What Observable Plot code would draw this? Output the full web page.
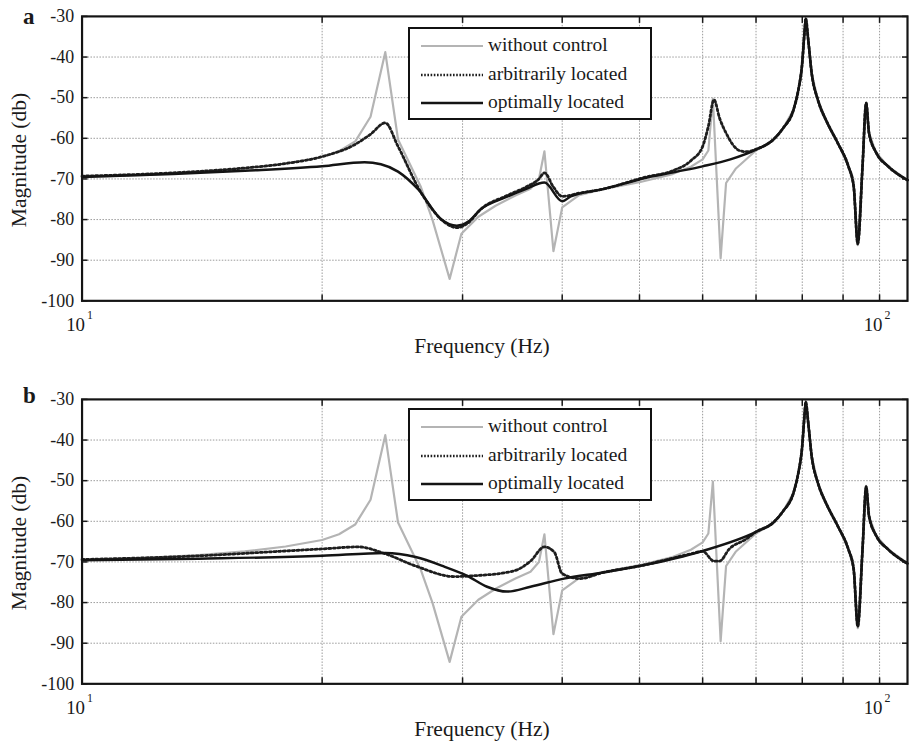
<!DOCTYPE html>
<html><head><meta charset="utf-8">
<script src="https://cdn.jsdelivr.net/npm/d3@7"></script>
<script src="https://cdn.jsdelivr.net/npm/@observablehq/plot@0.6"></script>
<style>
body{margin:0;background:#fff;overflow:hidden;font-family:"Liberation Serif","Tinos","Times New Roman",Times,"DejaVu Serif",serif;color:#1a1a1a}
#wrap{position:relative;width:910px;height:744px;overflow:hidden}
.panel{position:absolute;left:0}
.lbl{position:absolute;white-space:nowrap;line-height:1}
.legend{position:absolute;border:2px solid #111;background:#fff;box-sizing:border-box;width:244px;height:93px}
.sw{position:absolute;left:11px;width:62px;height:6px}
.lt{position:absolute;left:78px;font-size:19.5px;line-height:1;white-space:nowrap}
</style></head><body><div id="wrap"></div>
<script>
// ---------- data ----------
const panelLetters = ["a", "b"];
const seriesNames = ["without control", "arbitrarily located", "optimally located"];
const freqGridTicks = [20, 30, 40, 50, 60, 70, 80, 90, 100];
const decadeTicks = [10, 100];
const dbTicks = [-100, -90, -80, -70, -60, -50, -40, -30];

// without control (same in both panels)
const withoutFreq = [10, 12, 14, 16, 18, 20, 21, 22, 23, 24, 24.9, 26.6, 27.5, 28.9, 29.9, 31.4, 33, 35, 36.5, 37.4, 38, 39, 40, 42, 45, 50, 55, 58, 60, 61, 61.8, 62.5, 63.2, 64.2, 66, 70, 73.6, 75.7, 78, 79.1, 79.9, 80.5, 80.8, 81.4, 82.2, 83.7, 86, 88.6, 91.4, 92.8, 93.9, 95.2, 96.2, 97, 99, 102.5, 108.4];
const withoutDb   = [-69.5, -69, -68.3, -67.4, -66.2, -64.6, -63.2, -60.8, -54.7, -38.8, -60.3, -72, -80, -94.6, -83.5, -79.3, -76.6, -74, -72.4, -70, -63.2, -87.8, -77, -74, -72.5, -70.8, -68.8, -67, -65.2, -63, -50.2, -70, -89.5, -71, -67.5, -63, -60.3, -57.5, -53, -48.1, -42.5, -34.2, -30.4, -35.9, -44, -50.6, -56.2, -61.1, -66.9, -71.8, -86.3, -66.9, -51.3, -58.7, -63.5, -66.9, -70.3];

// panel a: arbitrarily located
const arbAFreq = [10, 13, 16, 18, 20, 22, 23, 24, 24.9, 26.6, 28.5, 29.5, 30.5, 31.6, 34, 36, 37.4, 38, 39, 40, 42, 45, 51, 55, 58, 60, 61, 62, 63, 64.2, 66.7, 68, 70, 73.6, 75.7, 78, 79.1, 79.9, 80.5, 80.8, 81.4, 82.2, 83.7, 86, 88.6, 91.4, 92.8, 93.9, 95.2, 96.2, 97, 99, 102.5, 108.4];
const arbADb   = [-69.3, -68.5, -67.3, -66.2, -64.5, -61.5, -59, -56.2, -62, -73.3, -80.7, -82, -80.8, -77.5, -74.2, -72, -70, -68.5, -72, -74.3, -73.5, -72.5, -69.5, -68, -65.5, -62, -57, -50.5, -55, -58.7, -63, -63.3, -62.7, -60.3, -57.5, -53, -48.1, -42.5, -34.2, -30.5, -35.9, -44, -50.6, -56.2, -61.1, -66.9, -71.8, -86, -66.9, -51.3, -58.7, -63.5, -66.9, -70.3];

// panel a: optimally located
const optAFreq = [10, 13, 16, 20, 22.6, 23.7, 24.9, 26.4, 28.2, 29.5, 30.5, 31.6, 34, 36, 38, 40, 41, 45, 51, 55.7, 60, 65, 70, 73.6, 75.7, 78, 79.1, 79.9, 80.5, 80.8, 81.4, 82.2, 83.7, 86, 88.6, 91.4, 92.8, 93.9, 95.2, 96.2, 97, 99, 102.5, 108.4];
const optADb   = [-69.5, -68.8, -68, -66.9, -65.9, -66.4, -68.2, -72.6, -79.9, -81.5, -80.5, -77.5, -74.5, -72.5, -70.9, -75.5, -74.3, -72.5, -69.7, -68.2, -66.9, -65.2, -62.8, -60.3, -57.5, -53, -48.1, -42.5, -34.2, -30.5, -35.9, -44, -50.6, -56.2, -61.1, -66.9, -71.8, -86, -66.9, -51.3, -58.7, -63.5, -66.9, -70.3];

// panel b: arbitrarily located
const arbBFreq = [10, 14, 18, 20, 22.2, 24, 26.2, 29.3, 31, 34.8, 36.5, 38, 39.1, 40, 42.1, 45, 50, 58, 60, 62, 63, 64.8, 68, 70, 73.6, 75.7, 78, 79.1, 79.9, 80.5, 80.8, 81.4, 82.2, 83.7, 86, 88.6, 91.4, 92.8, 93.9, 95.2, 96.2, 97, 99, 102.5, 108.4];
const arbBDb   = [-69.4, -68.5, -67.3, -66.8, -66.3, -68, -71, -73.6, -73.4, -72.2, -69.8, -66.3, -67.6, -72.9, -74.1, -72.6, -71, -68, -67.4, -69.8, -69.8, -66.8, -64.4, -62.6, -60.3, -57.5, -53, -48.1, -42.5, -34.2, -30.6, -35.9, -44, -50.6, -56.2, -61.1, -66.9, -71.8, -85.9, -66.9, -51.5, -58.7, -63.5, -66.9, -70.4];

// panel b: optimally located
const optBFreq = [10, 14, 20, 24, 26.2, 28.5, 30.4, 32.2, 34.1, 36.5, 40.2, 45, 50, 60, 70, 73.6, 75.7, 78, 79.1, 79.9, 80.5, 80.8, 81.4, 82.2, 83.7, 86, 88.6, 91.4, 92.8, 93.9, 95.2, 96.2, 97, 99, 102.5, 108.4];
const optBDb   = [-69.6, -69.2, -68.5, -67.8, -68.8, -71.2, -73.4, -76.1, -77.3, -76.1, -74.1, -72.6, -71, -67.3, -62.6, -60.3, -57.5, -53, -48.1, -42.5, -34.2, -30.6, -35.9, -44, -50.6, -56.2, -61.1, -66.9, -71.8, -85.9, -66.9, -51.5, -58.7, -63.5, -66.9, -70.4];

// ---------- rendering ----------
const toRows = (fs, ds) => fs.map((f, i) => ({f, db: ds[i]}));
const wrap = document.getElementById("wrap");
const serif = '"Liberation Serif","Tinos","Times New Roman",Times,"DejaVu Serif",serif';
const grayColor = "#b4b4b4", dotColor = "#1e1e1e", solidColor = "#141414";
const dotDash = "2,2.6";

function drawPanel(idx, top, arbF, arbD, optF, optD, cfg) {
  const chart = Plot.plot({
    width: 915, height: 370,
    marginLeft: 82, marginRight: 3, marginTop: 16, marginBottom: 68,
    x: {type: "log", domain: [10, 108.4]},
    y: {domain: [-100, -30]},
    style: {fontFamily: serif, fontSize: "18px", color: "#1a1a1a", background: "transparent", overflow: "visible"},
    marks: [
      Plot.ruleX(freqGridTicks, {stroke: "#9a9a9a", strokeWidth: 1, strokeDasharray: "1.5,1.5"}),
      Plot.ruleY(dbTicks.slice(1, -1), {stroke: "#9a9a9a", strokeWidth: 1, strokeDasharray: "1.5,1.5"}),
      Plot.line(toRows(withoutFreq, withoutDb), {x: "f", y: "db", stroke: grayColor, strokeWidth: 2.2}),
      Plot.line(toRows(arbF, arbD), {x: "f", y: "db", stroke: dotColor, strokeWidth: 2.8, strokeDasharray: dotDash, curve: "monotone-x"}),
      Plot.line(toRows(optF, optD), {x: "f", y: "db", stroke: solidColor, strokeWidth: 2.5, curve: "monotone-x"}),
      Plot.axisY(dbTicks, {anchor: "left", tickSize: 0, tickPadding: 8, tickFormat: d => String(d), label: null, fontSize: 18}),
      Plot.axisY(dbTicks, {anchor: "left", tickSize: -6, fill: "none", label: null, strokeWidth: 1.5}),
      Plot.axisY(dbTicks, {anchor: "right", tickSize: -6, fill: "none", label: null, strokeWidth: 1.5}),
      Plot.axisX(freqGridTicks, {anchor: "bottom", tickSize: -6, fill: "none", label: null, strokeWidth: 1.5}),
      Plot.axisX(freqGridTicks, {anchor: "top", tickSize: -6, fill: "none", label: null, strokeWidth: 1.5}),
      Plot.text(decadeTicks, {x: d => d, frameAnchor: "bottom", text: () => "10", textAnchor: "end", dx: 3, dy: 24, lineAnchor: "middle", fontSize: 19}),
      Plot.text(decadeTicks, {x: d => d, frameAnchor: "bottom", text: d => String(Math.round(Math.log10(d))), textAnchor: "start", dx: 5, dy: 14, lineAnchor: "middle", fontSize: 12}),
      Plot.frame({stroke: "#141414", strokeWidth: 2.2})
    ]
  });
  chart.classList.add("panel");
  chart.style.top = top + "px";
  wrap.appendChild(chart);

  const L = document.createElement("div");
  L.className = "lbl";
  L.textContent = panelLetters[idx];
  L.style.cssText += `left:23px;top:${top + cfg.letterTop}px;font-size:23px;font-weight:bold;`;
  wrap.appendChild(L);

  const Y = document.createElement("div");
  Y.className = "lbl";
  Y.textContent = "Magnitude (db)";
  Y.style.cssText += `left:20px;top:${top + 160}px;font-size:21.5px;transform:translate(-50%,-50%) rotate(-90deg);`;
  wrap.appendChild(Y);

  const X = document.createElement("div");
  X.className = "lbl";
  X.textContent = "Frequency (Hz)";
  X.style.cssText += `left:482px;top:${top + 336}px;font-size:21.5px;transform:translateX(-50%);`;
  wrap.appendChild(X);

  const lg = document.createElement("div");
  lg.className = "legend";
  lg.style.left = "408px";
  lg.style.top = (top + cfg.legendTop) + "px";
  const swStyles = [
    {stroke: grayColor, width: 2.2, dash: null},
    {stroke: dotColor, width: 2.6, dash: "1.6,1.6"},
    {stroke: solidColor, width: 2.5, dash: null}
  ];
  seriesNames.forEach((name, i) => {
    const cy = 17 + i * 28.5;
    const s = swStyles[i];
    const sw = document.createElementNS("http://www.w3.org/2000/svg", "svg");
    sw.setAttribute("class", "sw");
    sw.setAttribute("width", 62); sw.setAttribute("height", 6);
    sw.style.top = (cy - 3) + "px";
    const ln = document.createElementNS("http://www.w3.org/2000/svg", "line");
    ln.setAttribute("x1", 0); ln.setAttribute("x2", 62);
    ln.setAttribute("y1", 3); ln.setAttribute("y2", 3);
    ln.setAttribute("stroke", s.stroke); ln.setAttribute("stroke-width", s.width);
    if (s.dash) ln.setAttribute("stroke-dasharray", s.dash);
    sw.appendChild(ln);
    lg.appendChild(sw);
    const t = document.createElement("div");
    t.className = "lt";
    t.textContent = name;
    t.style.top = (cy - 11) + "px";
    lg.appendChild(t);
  });
  wrap.appendChild(lg);
}

drawPanel(0, 0, arbAFreq, arbADb, optAFreq, optADb, {letterTop: 5, legendTop: 27});
drawPanel(1, 383, arbBFreq, arbBDb, optBFreq, optBDb, {letterTop: 1, legendTop: 25});
</script>
</body></html>
